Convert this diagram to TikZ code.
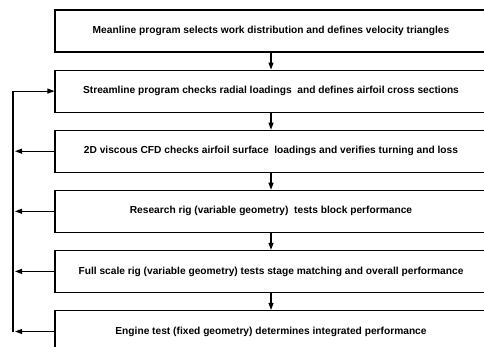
\documentclass[tikz,border=0pt]{standalone}
\usepackage{fontspec}
\setmainfont{Liberation Sans}
\usetikzlibrary{arrows.meta, positioning}

\begin{document}
\begin{tikzpicture}[
    node distance=17pt,
    stage/.style={rectangle, draw=black, line width=1.1pt, fill=white, minimum width=432pt, minimum height=42pt, align=center, inner sep=0pt, font=\bfseries\fontsize{10.2}{12}\selectfont},
    arrow/.style={-{Triangle[length=7pt, width=5pt]}, line width=1.1pt, black}
]
    \useasboundingbox (0,0) rectangle (484pt,-347pt);

    % Nodes
    \node[stage] (meanline) at (271pt,-31pt) {Meanline program selects work distribution and defines velocity triangles};
    \node[stage, below=of meanline] (streamline) {Streamline program checks radial loadings \ and defines airfoil cross sections};
    \node[stage, below=of streamline] (cfd) {2D viscous CFD checks airfoil surface \ loadings and verifies turning and loss};
    \node[stage, below=of cfd] (research) {Research rig (variable geometry) \ tests block performance};
    \node[stage, below=of research] (fullscale) {Full scale rig (variable geometry) tests stage matching and overall performance};
    \node[stage, below=of fullscale] (engine) {Engine test (fixed geometry) determines integrated performance};
    \coordinate (fb) at (13pt,0);

    % Connections
    \draw[arrow] (meanline) -- (streamline);
    \draw[arrow] (streamline) -- (cfd);
    \draw[arrow] (cfd) -- (research);
    \draw[arrow] (research) -- (fullscale);
    \draw[arrow] (fullscale) -- (engine);

    % Feedback loop
    \draw[arrow] (cfd.west) -- ([xshift=2pt]cfd.west -| fb);
    \draw[arrow] (research.west) -- ([xshift=2pt]research.west -| fb);
    \draw[arrow] (fullscale.west) -- ([xshift=2pt]fullscale.west -| fb);
    \draw[arrow] (engine.west) -- ([xshift=2pt]engine.west -| fb);
    \draw[arrow] (engine.west -| fb) |- (streamline.west);
\end{tikzpicture}
\end{document}
